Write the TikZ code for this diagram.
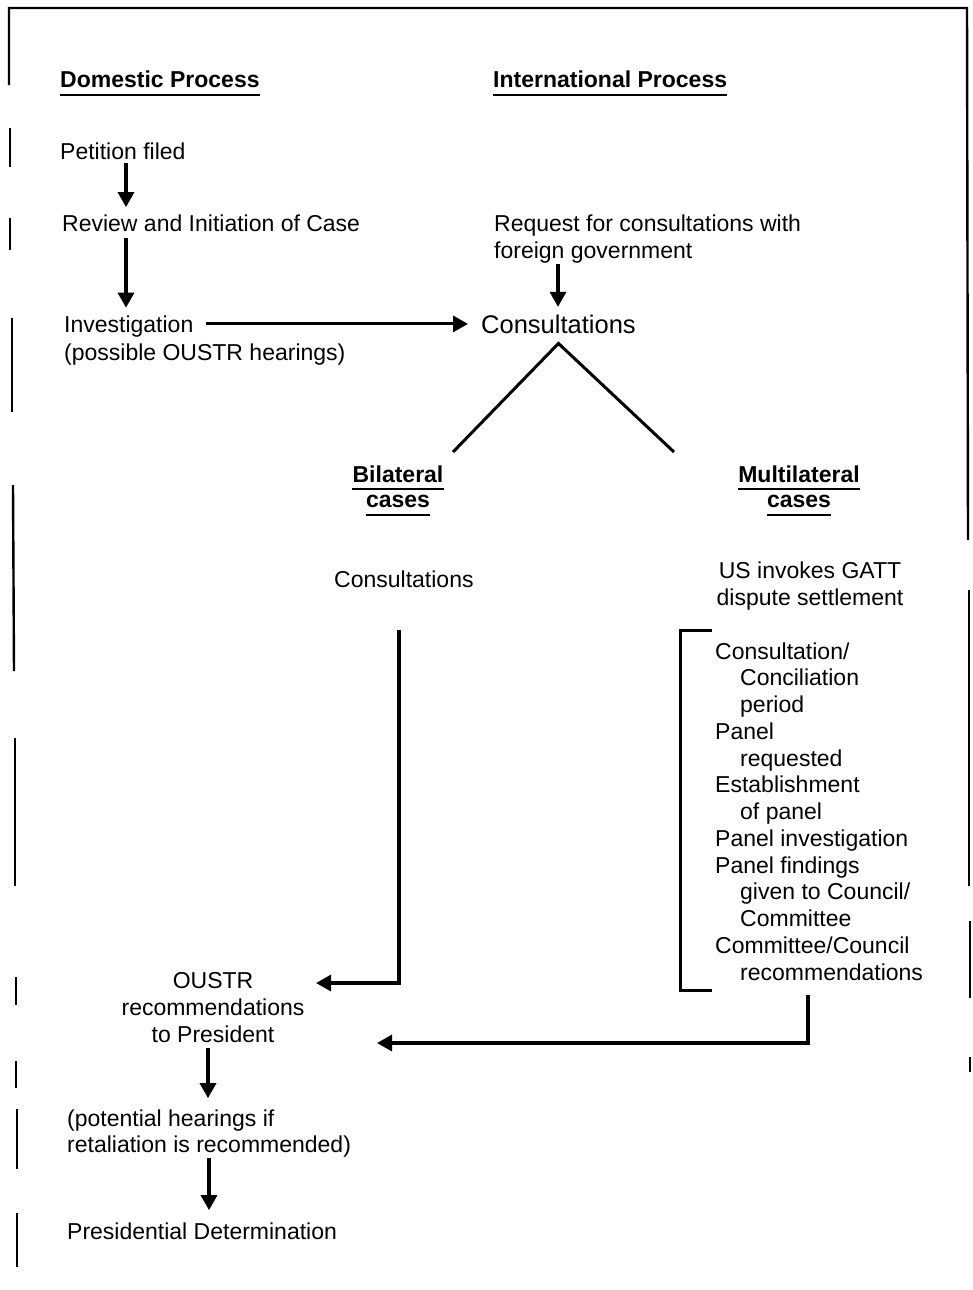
\documentclass[tikz,border=0pt]{standalone}
\usepackage{fontspec}
\setmainfont{Liberation Sans}
\usetikzlibrary{arrows.meta,calc}
\begin{document}
\begin{tikzpicture}[x=1pt,y=-1pt,
  txt/.style={font=\fontsize{23}{28}\selectfont, inner sep=0pt, anchor=base west},
  ctxt/.style={txt, anchor=base},
  hdr/.style={font=\bfseries\fontsize{23}{28}\selectfont, inner sep=0pt, anchor=base west},
  chdr/.style={hdr, anchor=base},
  arr/.style={line width=3.2pt, -{Triangle[length=15pt,width=16pt]}},
  conn/.style={line width=3pt},
  frameline/.style={line width=2.4pt},
  ul/.style={line width=2.4pt}]
\useasboundingbox (0,0) rectangle (972,1290);

% broken frame of the scan
\draw[frameline] (9,85) -- (9,8) -- (967,8) -- (968,540);
\draw[frameline] (10,128) -- (10,167);
\draw[frameline] (10,218) -- (10,250);
\draw[frameline] (12,318) -- (12,412);
\draw[frameline] (13,485) -- (14,671);
\draw[frameline] (15,738) -- (15,886);
\draw[frameline] (16,977) -- (16,1005);
\draw[frameline] (16,1061) -- (16,1088);
\draw[frameline] (17,1109) -- (17,1169);
\draw[frameline] (17,1213) -- (17,1267);
\draw[frameline] (969,590) -- (969,886);
\draw[frameline] (970,921) -- (970,998);
\draw[frameline] (970,1057) -- (970,1072);

% headers
\node[hdr] (dom) at (60,87) {Domestic Process};
\draw[ul] ([yshift=-8pt]dom.base west) -- ([yshift=-8pt]dom.base east);
\node[hdr] (intl) at (493,87) {International Process};
\draw[ul] ([yshift=-8pt]intl.base west) -- ([yshift=-8pt]intl.base east);

% domestic column
\node[txt] (petition) at (60,159) {Petition filed};
\node[txt] (review) at (62,231) {Review and Initiation of Case};
\node[txt] (invest) at (64,332) {Investigation};
\node[txt] (possible) at (64,360) {(possible OUSTR hearings)};

% international column
\node[txt] (request) at (494,231) {Request for consultations with};
\node[txt] (foreign) at (494,258) {foreign government};
\node[font=\fontsize{25.5}{30}\selectfont, inner sep=0pt, anchor=base west] (consult) at (481,333) {Consultations};

\node[chdr] (bil) at (398,482) {Bilateral};
\draw[ul] ([yshift=-7pt]bil.base west) -- ([yshift=-7pt]bil.base east);
\node[chdr] (bilc) at (398,507) {cases};
\draw[ul] ([yshift=-8pt]bilc.base west) -- ([yshift=-8pt]bilc.base east);
\node[chdr] (mul) at (799,482) {Multilateral};
\draw[ul] ([yshift=-7pt]mul.base west) -- ([yshift=-7pt]mul.base east);
\node[chdr] (mulc) at (799,507) {cases};
\draw[ul] ([yshift=-8pt]mulc.base west) -- ([yshift=-8pt]mulc.base east);

\node[txt] (bcons) at (334,587) {Consultations};
\node[ctxt] (gatt1) at (810,578) {US invokes GATT};
\node[ctxt] (gatt2) at (810,605) {dispute settlement};

% GATT steps
\node[txt] (l0) at (715,659) {Consultation/};
\node[txt] (l1) at (740,685.75) {Conciliation};
\node[txt] (l2) at (740,712.5) {period};
\node[txt] (l3) at (715,739.25) {Panel};
\node[txt] (l4) at (740,766) {requested};
\node[txt] (l5) at (715,792.75) {Establishment};
\node[txt] (l6) at (740,819.5) {of panel};
\node[txt] (l7) at (715,846.25) {Panel investigation};
\node[txt] (l8) at (715,873) {Panel findings};
\node[txt] (l9) at (740,899.75) {given to Council/};
\node[txt] (l10) at (740,926.5) {Committee};
\node[txt] (l11) at (715,953.25) {Committee/Council};
\node[txt] (l12) at (740,980) {recommendations};
\draw[conn] (712,630) -- (680,630) -- (680,990) -- (712,990);

% bottom
\node[ctxt] (oustr) at (213,988) {OUSTR};
\node[ctxt] (recs) at (213,1015) {recommendations};
\node[ctxt] (pres) at (213,1042) {to President};
\node[txt] (pot) at (67,1126) {(potential hearings if};
\node[txt] (ret) at (67,1152) {retaliation is recommended)};
\node[txt] (det) at (67,1239) {Presidential Determination};

% coordinates
\coordinate (xa) at (126,0);
\coordinate (xb) at (558,0);
\coordinate (xc) at (208,0);
\coordinate (xd) at (209,0);
\coordinate (apex) at ([yshift=-10pt]consult.south);
\coordinate (bl) at (453,452);
\coordinate (br) at (674,452);
\coordinate (bt) at (399,630);
\coordinate (bb) at (399,983);
\coordinate (bend) at (316,983);
\coordinate (mt) at (808,995);
\coordinate (mb) at (808,1043);
\coordinate (mend) at (377,1043);

% connectors
\draw[arr, shorten <=4pt, shorten >=7pt] (petition.south -| xa) -- (review.north -| xa);
\draw[arr, shorten <=7pt, shorten >=7.5pt] (review.south -| xa) -- (invest.north -| xa);
\draw[arr, shorten <=12pt, shorten >=13pt] (invest.east |- consult.west) -- (consult.west);
\draw[arr, shorten <=1pt, shorten >=7.5pt] (foreign.south -| xb) -- (consult.north -| xb);
\draw[conn] (bl) -- (apex) -- (br);
\draw[arr] (bt) -- (bb) -- (bend);
\draw[arr] (mt) -- (mb) -- (mend);
\draw[arr, shorten <=6pt, shorten >=11pt] (pres.south -| xc) -- (pot.north -| xc);
\draw[arr, shorten <=1pt, shorten >=12pt] (ret.south -| xd) -- (det.north -| xd);
\end{tikzpicture}
\end{document}
